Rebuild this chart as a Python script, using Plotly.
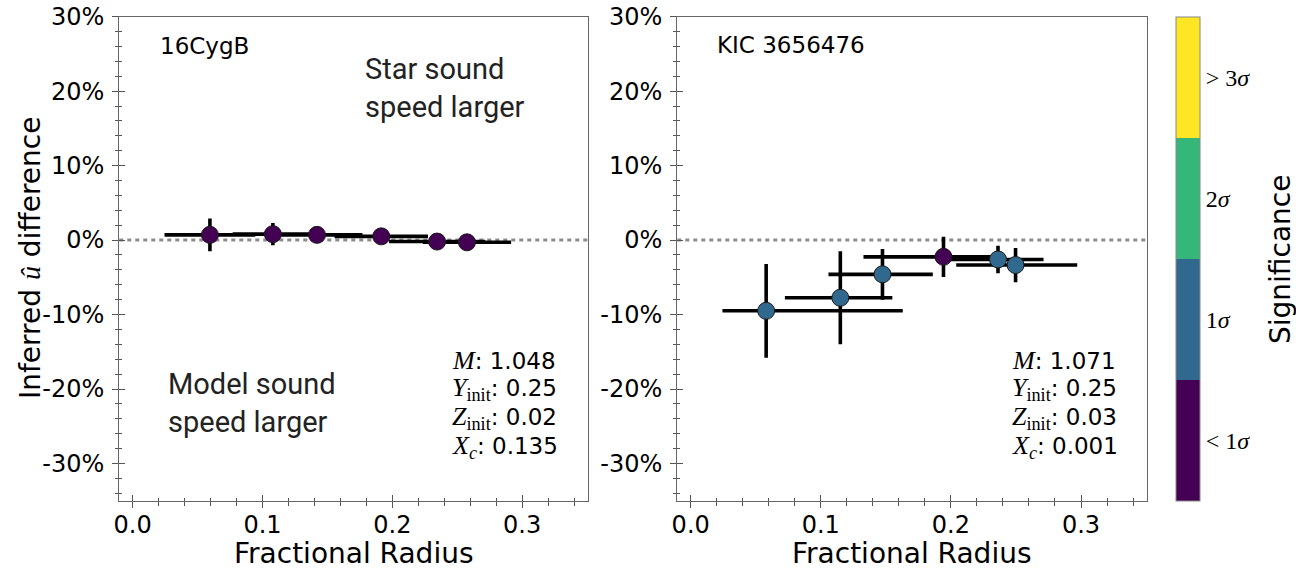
import plotly.graph_objects as go

# ---------------- data ----------------
left_r = [0.0595, 0.108, 0.142, 0.1915, 0.2345, 0.2575]
left_r_err_plus = [0.035, 0.031, 0.035, 0.036, 0.037, 0.034]
left_r_err_minus = [0.035, 0.031, 0.035, 0.036, 0.037, 0.034]
left_du = [0.7, 0.8, 0.7, 0.5, -0.2, -0.3]
left_du_err = [2.2, 1.5, 0.6, 0.6, 0.5, 0.5]
left_sig = [0, 0, 0, 0, 0, 0]

right_r = [0.058, 0.115, 0.1474, 0.1943, 0.2362, 0.2497]
right_r_err_plus = [0.105, 0.040, 0.0387, 0.037, 0.035, 0.0474]
right_r_err_minus = [0.0336, 0.0426, 0.0415, 0.0615, 0.0367, 0.0456]
right_du = [-9.5, -7.75, -4.6, -2.25, -2.6, -3.35]
right_du_err = [6.3, 6.25, 3.4, 2.7, 1.85, 2.3]
right_sig = [1, 1, 1, 0, 1, 1]

star_names = ["16CygB", "KIC 3656476"]
left_params = ["1.048", "0.25", "0.02", "0.135"]
right_params = ["1.071", "0.25", "0.03", "0.001"]
param_names = ["<i>M</i>", "<i>Y</i><sub>init</sub>", "<i>Z</i><sub>init</sub>", "<i>X</i><sub><i>c</i></sub>"]

y_tickvals = [-30, -20, -10, 0, 10, 20, 30]
y_ticktext = ["-30%", "-20%", "-10%", "0%", "10%", "20%", "30%"]
x_tickvals = [0.0, 0.1, 0.2, 0.3]
x_ticktext = ["0.0", "0.1", "0.2", "0.3"]

sig_tickvals = [0.5, 1.5, 2.5, 3.5]
sig_ticktext = ["&lt;&nbsp;1<i>σ</i>", "1<i>σ</i>", "2<i>σ</i>", "&gt;&nbsp;3<i>σ</i>"]
sig_colors = ["#440154", "#31688e", "#35b779", "#fde725"]

# ---------------- layout helpers ----------------
W, H = 1296, 571
def px(x):
    return x / W
def py(y):
    return 1 - y / H

colorscale = []
n = len(sig_colors)
for i, c in enumerate(sig_colors):
    colorscale.append([i / n, c])
    colorscale.append([(i + 1) / n, c])

MATH = "Liberation Serif"
SANS = "DejaVu Sans"

fig = go.Figure()

def add_panel(r, rplus, rminus, du, duerr, sig, xa, ya, showscale):
    fig.add_trace(go.Scatter(
        x=r, y=du, mode="markers", xaxis=xa, yaxis=ya,
        error_x=dict(type="data", symmetric=False, array=rplus, arrayminus=rminus,
                     color="black", thickness=3.6, width=0),
        error_y=dict(type="data", array=duerr, color="black", thickness=3.6, width=0),
        marker=dict(size=17, color=sig, colorscale=colorscale, cmin=0, cmax=4,
                    line=dict(color="#1a1a1a", width=1),
                    showscale=showscale,
                    colorbar=dict(
                        x=px(1175.7 - 10), xanchor="left", xref="paper",
                        y=py(258.7), yanchor="middle", yref="paper",
                        len=504, lenmode="pixels", thickness=24.3, ypad=10,
                        outlinewidth=1, outlinecolor="#888",
                        tickvals=sig_tickvals, ticktext=sig_ticktext,
                        ticks="", tickfont=dict(family=MATH, size=24, color="black"),
                    )),
        showlegend=False, hoverinfo="skip",
    ))

add_panel(left_r, left_r_err_plus, left_r_err_minus, left_du, left_du_err, left_sig, "x", "y", True)
add_panel(right_r, right_r_err_plus, right_r_err_minus, right_du, right_du_err, right_sig, "x2", "y2", False)
# dummy traces for the outer-tick overlay axes
fig.add_trace(go.Scatter(x=[None], y=[None], xaxis="x3", yaxis="y3", showlegend=False, hoverinfo="skip"))
fig.add_trace(go.Scatter(x=[None], y=[None], xaxis="x4", yaxis="y4", showlegend=False, hoverinfo="skip"))

xdom_l = [px(119.3), px(587.7)]
xdom_r = [px(677.3), px(1146.7)]
ydom = [py(500.7), py(16.7)]
xr = [-0.0103, 0.3505]
yr = [-35, 30]

tickcol = "#555"
axcol = "#666"

def xaxis_main(dom, anchor):
    return dict(domain=dom, anchor=anchor, range=xr, showgrid=False, zeroline=False,
                showline=True, mirror=True, linecolor=axcol, linewidth=1.3,
                ticks="inside", ticklen=6, tickwidth=1.3, tickcolor=tickcol,
                tickvals=x_tickvals, ticktext=x_ticktext, automargin=False,
                ticklabelstandoff=2,
                tickfont=dict(family=SANS, size=24, color="black"),
                minor=dict(ticks="inside", ticklen=3, tickwidth=1, tickcolor=tickcol,
                           tick0=0, dtick=0.02, showgrid=False))

def yaxis_main(dom, anchor):
    return dict(domain=dom, anchor=anchor, range=yr, showgrid=False, zeroline=False,
                showline=True, mirror=True, linecolor=axcol, linewidth=1.3,
                ticks="inside", ticklen=6, tickwidth=1.3, tickcolor=tickcol,
                tickvals=y_tickvals, ticktext=y_ticktext, automargin=False,
                ticklabelstandoff=9,
                tickfont=dict(family=SANS, size=24, color="black"),
                minor=dict(ticks="inside", ticklen=3, tickwidth=1, tickcolor=tickcol,
                           tick0=0, dtick=2, showgrid=False))

def xaxis_out(over, anchor):
    return dict(overlaying=over, anchor=anchor, range=xr, showgrid=False, zeroline=False,
                showline=False, showticklabels=False, side="bottom", automargin=False,
                ticks="outside", ticklen=6, tickwidth=1.3, tickcolor=tickcol,
                tickvals=x_tickvals,
                minor=dict(ticks="outside", ticklen=4, tickwidth=1, tickcolor=tickcol,
                           tick0=0, dtick=0.02, showgrid=False))

def yaxis_out(over, anchor):
    return dict(overlaying=over, anchor=anchor, range=yr, showgrid=False, zeroline=False,
                showline=False, showticklabels=False, side="left", automargin=False,
                ticks="outside", ticklen=6, tickwidth=1.3, tickcolor=tickcol,
                tickvals=y_tickvals,
                minor=dict(ticks="outside", ticklen=3, tickwidth=1, tickcolor=tickcol,
                           tick0=0, dtick=2, showgrid=False))

annotations = []
# axis titles
for cx in [(119.3 + 587.7) / 2, (677.3 + 1146.7) / 2]:
    annotations.append(dict(x=px(cx), y=py(553), xref="paper", yref="paper",
                            text="Fractional Radius", showarrow=False,
                            xanchor="center", yanchor="middle",
                            font=dict(family=SANS, size=28, color="black")))
annotations.append(dict(x=px(30), y=py(258), xref="paper", yref="paper",
                        text="Inferred <span style='font-family:" + MATH + "'><i>û</i></span> difference",
                        showarrow=False, textangle=-90, xanchor="center", yanchor="middle",
                        font=dict(family=SANS, size=28, color="black")))
annotations.append(dict(x=px(1281), y=py(260), xref="paper", yref="paper",
                        text="Significance", showarrow=False, textangle=-90,
                        xanchor="center", yanchor="middle",
                        font=dict(family=SANS, size=28, color="black")))
# star names
annotations.append(dict(x=px(158), y=py(46), xref="paper", yref="paper", text=star_names[0],
                        showarrow=False, xanchor="left", yanchor="middle",
                        font=dict(family=SANS, size=23, color="black")))
annotations.append(dict(x=px(715), y=py(45), xref="paper", yref="paper", text=star_names[1],
                        showarrow=False, xanchor="left", yanchor="middle",
                        font=dict(family=SANS, size=23, color="black")))
# region labels
annotations.append(dict(x=px(363), y=py(88), xref="paper", yref="paper",
                        text="Star sound<br>speed larger", showarrow=False,
                        xanchor="left", yanchor="middle", align="left",
                        font=dict(family="Roboto", size=29, color="#222")))
annotations.append(dict(x=px(166), y=py(403), xref="paper", yref="paper",
                        text="Model sound<br>speed larger", showarrow=False,
                        xanchor="left", yanchor="middle", align="left",
                        font=dict(family="Roboto", size=29, color="#222")))
# parameter blocks
for x0, vals in [(450, left_params), (1010, right_params)]:
    for i, (nm, v) in enumerate(zip(param_names, vals)):
        annotations.append(dict(
            x=px(x0), y=py(360.5 + i * 28.7), xref="paper", yref="paper",
            text="<span style='font-family:" + MATH + ";font-size:26px'>" + nm + "</span>: " + v,
            showarrow=False, xanchor="left", yanchor="middle",
            font=dict(family=SANS, size=23, color="black")))

shapes = []
for xa, ya in [("x", "y"), ("x2", "y2")]:
    shapes.append(dict(type="line", xref=xa + " domain", yref=ya, x0=0, x1=1, y0=0, y1=0,
                       line=dict(color="#8c8c8c", width=3, dash="4px,4px"), layer="below"))

fig.update_layout(
    width=W, height=H,
    margin=dict(l=0, r=0, t=0, b=0, autoexpand=False),
    paper_bgcolor="white", plot_bgcolor="white",
    showlegend=False,
    xaxis=xaxis_main(xdom_l, "y"),
    yaxis=yaxis_main(ydom, "x"),
    xaxis2=xaxis_main(xdom_r, "y2"),
    yaxis2=yaxis_main(ydom, "x2"),
    xaxis3=xaxis_out("x", "y"),
    yaxis3=yaxis_out("y", "x"),
    xaxis4=xaxis_out("x2", "y2"),
    yaxis4=yaxis_out("y2", "x2"),
    annotations=annotations,
    shapes=shapes,
)

fig.write_html("out.html")
